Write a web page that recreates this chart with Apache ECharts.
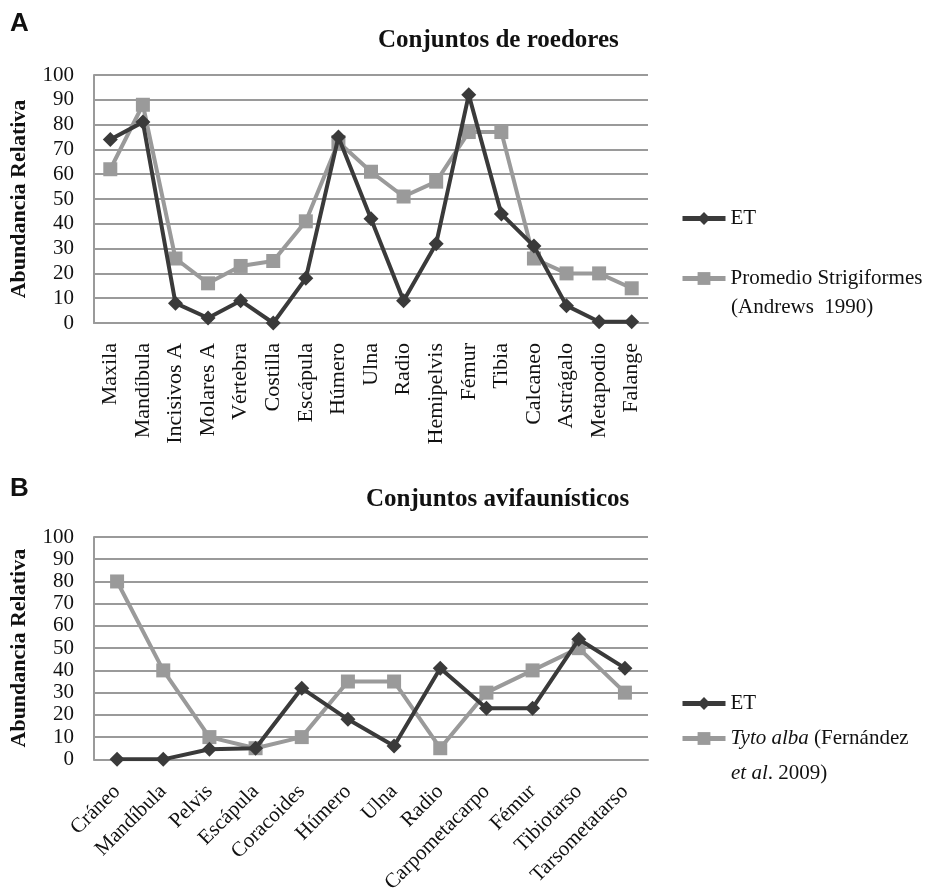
<!DOCTYPE html>
<html>
<head>
<meta charset="utf-8">
<script src="https://cdn.jsdelivr.net/npm/echarts@6/dist/echarts.min.js"></script>
<style>
  html, body { margin: 0; padding: 0; background: #fff; }
  #main { width: 926px; height: 896px; }
</style>
</head>
<body>
<div id="main"></div>
<script>
// panel A - rodents
const rodentParts = ['Maxila', 'Mandíbula', 'Incisivos A', 'Molares A', 'Vértebra', 'Costilla', 'Escápula',
  'Húmero', 'Ulna', 'Radio', 'Hemipelvis', 'Fémur', 'Tibia', 'Calcaneo', 'Astrágalo', 'Metapodio', 'Falange'];
const rodentET = [74, 81, 8, 2, 9, 0, 18, 75, 42, 9, 32, 92, 44, 31, 7, 0.5, 0.5];
const rodentStrig = [62, 88, 26, 16, 23, 25, 41, 73, 61, 51, 57, 77, 77, 26, 20, 20, 14];

// panel B - birds
const birdParts = ['Cráneo', 'Mandíbula', 'Pelvis', 'Escápula', 'Coracoides', 'Húmero', 'Ulna', 'Radio',
  'Carpometacarpo', 'Fémur', 'Tibiotarso', 'Tarsometatarso'];
const birdET = [0, 0, 4.5, 5, 32, 18, 6, 41, 23, 23, 54, 41];
const birdTyto = [80, 40, 10, 5, 10, 35, 35, 5, 30, 40, 50, 30];

const SERIF = '"Liberation Serif", "DejaVu Serif", serif';
const SANS = 'Arial, "Liberation Sans", sans-serif';
const DARK = '#3a3a3a';
const GREY = '#9a9a9a';
const INK = '#111';

function yAxis(gridIndex) {
  return {
    type: 'value', gridIndex: gridIndex, min: 0, max: 100, interval: 10,
    name: 'Abundancia Relativa', nameLocation: 'middle', nameGap: 64,
    nameTextStyle: { fontFamily: SERIF, fontWeight: 'bold', fontSize: 22, color: INK },
    axisLine: { show: true, lineStyle: { color: GREY, width: 2 } },
    axisTick: { show: false },
    axisLabel: { fontFamily: SERIF, fontSize: 21, color: INK, margin: 20 },
    splitLine: { lineStyle: { color: GREY, width: 2 } }
  };
}

function lineSeries(name, data, idx, color, symbol, size) {
  return {
    type: 'line', name: name, data: data, xAxisIndex: idx, yAxisIndex: idx,
    symbol: symbol, symbolSize: size,
    lineStyle: { color: color, width: 4 },
    itemStyle: { color: color },
    z: symbol === 'diamond' ? 3 : 2
  };
}

const legendText = { fontFamily: SERIF, fontSize: 21, color: INK };
const titleStyle = { fontFamily: SERIF, fontWeight: 'bold', fontSize: 25, color: INK };
const letterStyle = { fontFamily: SANS, fontWeight: 'bold', fontSize: 26, color: INK };

function legendAt(name, top, formatter) {
  return {
    data: [name], left: 680, top: top, itemWidth: 43, itemHeight: 16, padding: 0,
    lineStyle: { width: 5 },
    formatter: formatter,
    textStyle: Object.assign({}, legendText, {
      rich: { i: { fontFamily: SERIF, fontSize: 21, fontStyle: 'italic', color: INK } }
    })
  };
}

const chart = echarts.init(document.getElementById('main'));
chart.setOption({
  animation: false,
  title: [
    { text: 'A', left: 10, top: 11, padding: 0, textStyle: letterStyle },
    { text: 'Conjuntos de roedores', left: 378, top: 28, padding: 0, textStyle: titleStyle },
    { text: 'B', left: 10, top: 476, padding: 0, textStyle: letterStyle },
    { text: 'Conjuntos avifaunísticos', left: 366, top: 487, padding: 0, textStyle: titleStyle }
  ],
  grid: [
    { left: 91, right: 278, top: 75, height: 248 },
    { left: 92, right: 278, top: 537, height: 230 }
  ],
  xAxis: [
    {
      type: 'category', gridIndex: 0, data: rodentParts, boundaryGap: true,
      axisLine: { lineStyle: { color: GREY, width: 2 } },
      axisTick: { show: false },
      axisLabel: { rotate: 90, fontFamily: SERIF, fontSize: 22, color: INK, margin: 20, interval: 0 }
    },
    {
      type: 'category', gridIndex: 1, data: birdParts, boundaryGap: true,
      axisLine: { lineStyle: { color: GREY, width: 2 } },
      axisTick: { show: false },
      axisLabel: { rotate: 45, fontFamily: SERIF, fontSize: 21, color: INK, margin: 29, interval: 0 }
    }
  ],
  yAxis: [yAxis(0), yAxis(1)],
  legend: [
    legendAt('ET', 208),
    legendAt('Promedio Strigiformes (Andrews  1990)', 268, function () { return 'Promedio Strigiformes'; }),
    legendAt('ET', 693),
    legendAt('Tyto alba (Fernández et al. 2009)', 728, function () { return '{i|Tyto alba} (Fernández'; })
  ],
  // second lines of the wrapped legend entries
  graphic: [
    {
      type: 'text', left: 731, top: 297,
      style: { text: '(Andrews  1990)', font: '21px "Liberation Serif", serif', fill: INK }
    },
    {
      type: 'text', left: 731, top: 763,
      style: {
        text: '{i|et al}. 2009)', font: '21px "Liberation Serif", serif', fill: INK,
        rich: { i: { fontFamily: SERIF, fontSize: 21, fontStyle: 'italic', fill: INK } }
      }
    }
  ],
  series: [
    lineSeries('Promedio Strigiformes (Andrews  1990)', rodentStrig, 0, GREY, 'rect', 14),
    lineSeries('ET', rodentET, 0, DARK, 'diamond', 15),
    lineSeries('Tyto alba (Fernández et al. 2009)', birdTyto, 1, GREY, 'rect', 14),
    lineSeries('ET', birdET, 1, DARK, 'diamond', 15)
  ]
});
</script>
</body>
</html>
